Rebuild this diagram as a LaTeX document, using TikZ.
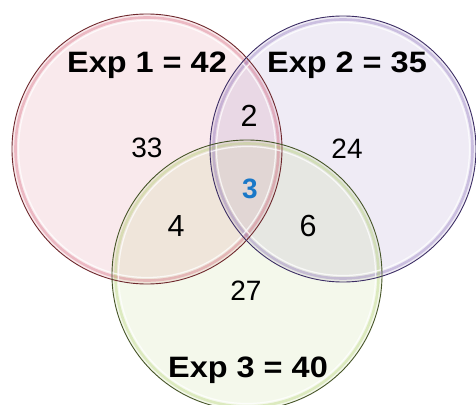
\documentclass[tikz,border=0pt]{standalone}
\usepackage{fontspec}
\setmainfont{Liberation Sans}
\begin{document}
\begin{tikzpicture}[x=1pt,y=-1pt,
  title/.style={font=\fontsize{29.5}{30}\selectfont\bfseries, anchor=base, inner sep=0pt},
  numA/.style={font=\fontsize{28}{29}\selectfont, inner sep=0pt},
  numB/.style={font=\fontsize{30.5}{31}\selectfont, inner sep=0pt},
  setfill/.style={fill=#1, fill opacity=0.12},
  rim/.style={draw=#1, line width=2.6pt, draw opacity=0.3},
  edge/.style={draw=#1, line width=0.9pt}]
\definecolor{redc}{RGB}{205,75,100}
\definecolor{purc}{RGB}{120,90,175}
\definecolor{grnc}{RGB}{165,200,90}
\definecolor{rede}{RGB}{110,40,45}
\definecolor{pure}{RGB}{60,45,100}
\definecolor{grne}{RGB}{70,85,40}
\definecolor{bluec}{RGB}{25,120,200}
\useasboundingbox (0,0) rectangle (476,404);
\begin{scope}
\clip (0,0) rectangle (476,404);
% fills
\path[setfill=redc] (147,149) circle (135);
\path[setfill=purc] (343,149) circle (133);
\path[setfill=grnc] (247,275) circle (135);
% inner rims (glossy look)
\path[rim=redc] (147,149) circle (131.5);
\path[rim=purc] (343,149) circle (129.5);
\path[rim=grnc] (247,275) circle (131.5);
\draw[white, line width=1.2pt, opacity=0.75] (147,149) circle (128.5);
\draw[white, line width=1.2pt, opacity=0.75] (343,149) circle (126.5);
\draw[white, line width=1.2pt, opacity=0.75] (247,275) circle (128.5);
% outlines
\path[edge=rede] (147,149) circle (135);
\path[edge=pure] (343,149) circle (133);
\path[edge=grne] (247,275) circle (135);
\end{scope}
\node[title] (t1) at (147,72) {\scalebox{1.1}[1]{Exp 1 = 42}};
\node[title] (t2) at (347,72) {\scalebox{1.1}[1]{Exp 2 = 35}};
\node[title] (t3) at (248,377) {\scalebox{1.1}[1]{Exp 3 = 40}};
\node[numA] (n33) at (147,148) {33};
\node[numA] (n24) at (347,149) {24};
\node[numA] (n27) at (246,291) {27};
\node[numB] (n2) at (249,116) {2};
\node[numB] (n4) at (176,226) {4};
\node[numB] (n6) at (308,226) {6};
\node[numB, font=\fontsize{28}{29}\selectfont\bfseries, text=bluec] (n3) at (250,189) {3};
\end{tikzpicture}
\end{document}
